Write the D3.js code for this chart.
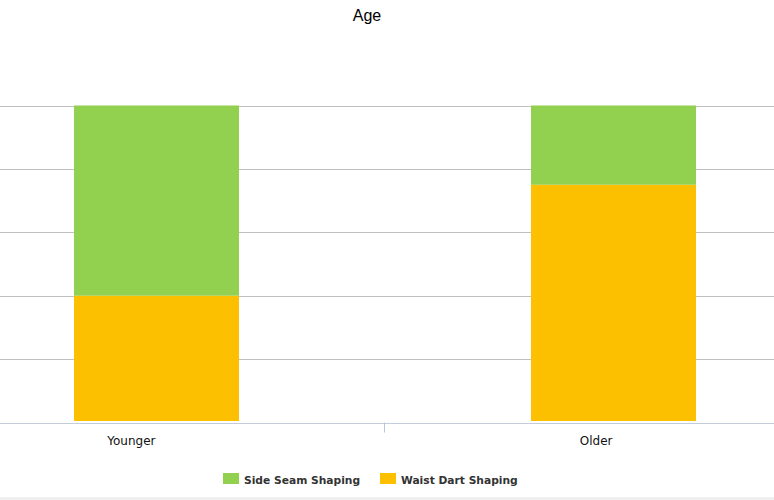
<!DOCTYPE html>
<html>
<head>
<meta charset="utf-8">
<script src="https://cdn.jsdelivr.net/npm/d3@7"></script>
<style>
  html, body { margin: 0; padding: 0; background: #fff; }
  svg { display: block; }
</style>
</head>
<body>
<svg id="chart" width="774" height="500"></svg>
<script>
const titleText = "Age";
const categories = ["Younger", "Older"];
const seriesNames = ["Side Seam Shaping", "Waist Dart Shaping"];
const sideSeam = [3, 1];
const waistDart = [2, 3];
const seriesColors = ["#92d050", "#fcc000"];
const gridTicks = [0, 20, 40, 60, 80, 100];

const W = 774, H = 500;
const svg = d3.select("#chart");

const rows = categories.map((c, i) => {
  const tot = sideSeam[i] + waistDart[i];
  return { cat: c, waist: waistDart[i] / tot * 100, side: sideSeam[i] / tot * 100 };
});
const stack = d3.stack().keys(["waist", "side"]);
const layers = stack(rows);
const layerColor = { waist: seriesColors[1], side: seriesColors[0] };

const x = d3.scaleBand().domain(categories).range([-72, 842]).padding(0);
const y = d3.scaleLinear().domain([0, 100]).range([422.5, 105.5]);
const barW = x.bandwidth() * 0.361;

svg.append("rect").attr("x", 0).attr("y", 497).attr("width", W).attr("height", 3).attr("fill", "#f0f0f0");

svg.append("g").selectAll("line").data(gridTicks.filter(d => d > 0)).join("line")
  .attr("x1", 0).attr("x2", W)
  .attr("y1", d => Math.round(y(d)) + 0.5).attr("y2", d => Math.round(y(d)) + 0.5)
  .attr("stroke", "#c0c0c0").attr("stroke-width", 1);

svg.append("g").selectAll("g").data(layers).join("g")
  .attr("fill", d => layerColor[d.key])
  .selectAll("rect").data(d => d).join("rect")
  .attr("x", d => x(d.data.cat) + x.bandwidth() / 2 - barW / 2)
  .attr("width", barW)
  .attr("y", d => y(d[1]))
  .attr("height", d => (d[0] === 0 ? y(d[0]) - 1.5 : y(d[0])) - y(d[1]));

svg.append("line").attr("x1", 0).attr("x2", W)
  .attr("y1", Math.round(y(0)) + 0.5).attr("y2", Math.round(y(0)) + 0.5)
  .attr("stroke", "#c3cdd9").attr("stroke-width", 1);

const boundaries = categories.slice(1).map(c => x(c));
svg.append("g").selectAll("line").data(boundaries).join("line")
  .attr("x1", d => Math.round(d) - 0.5).attr("x2", d => Math.round(d) - 0.5)
  .attr("y1", y(0)).attr("y2", y(0) + 10)
  .attr("stroke", "#b4c6e0").attr("stroke-width", 1);

svg.append("g").selectAll("text").data(categories).join("text")
  .attr("x", d => x(d) + x.bandwidth() / 2 - 1)
  .attr("y", 445)
  .attr("text-anchor", "end")
  .attr("font-family", "'DejaVu Sans', sans-serif")
  .attr("font-size", 12)
  .attr("fill", "#111")
  .text(d => d);

svg.append("text").attr("x", 367).attr("y", 21).attr("text-anchor", "middle")
  .attr("font-family", "'Liberation Sans', Arial, sans-serif")
  .attr("font-size", 16).attr("fill", "#000").text(titleText);

const legendItems = [
  { name: seriesNames[0], color: seriesColors[0], x: 223 },
  { name: seriesNames[1], color: seriesColors[1], x: 380 }
];
const lg = svg.append("g").selectAll("g").data(legendItems).join("g")
  .attr("transform", d => `translate(${d.x},473)`);
lg.append("rect").attr("width", 16).attr("height", 11).attr("fill", d => d.color);
lg.append("text").attr("x", 21).attr("y", 11)
  .attr("font-family", "'DejaVu Sans', sans-serif")
  .attr("font-weight", "bold").attr("font-size", 10.7)
  .attr("fill", "#333")
  .text(d => d.name);
</script>
</body>
</html>
